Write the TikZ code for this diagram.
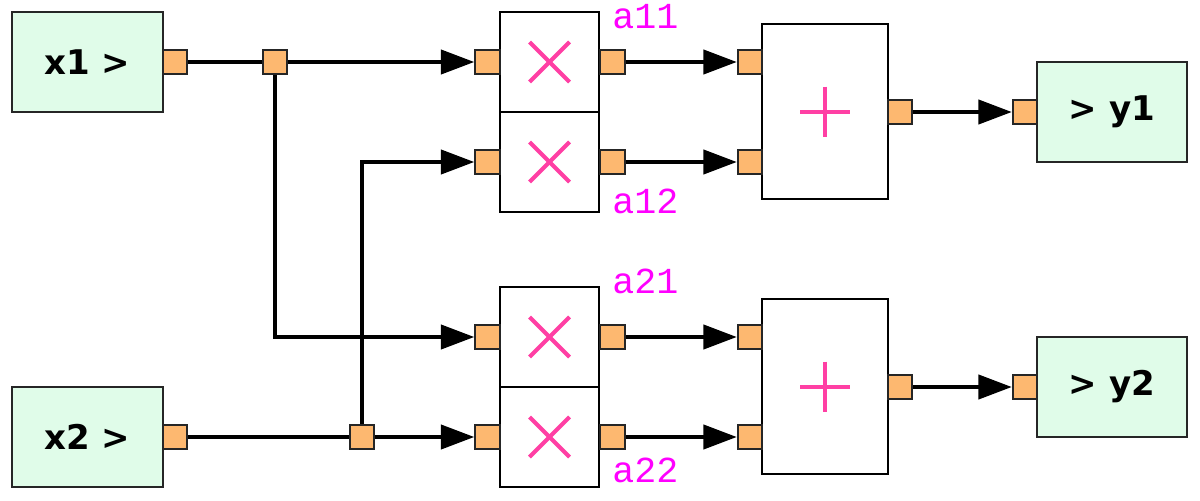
\documentclass[tikz,border=0pt]{standalone}
\usepackage{fontspec}
\setmainfont{DejaVu Sans}
\newfontfamily\monof{Liberation Mono}
\usetikzlibrary{arrows.meta}
\definecolor{iogreen}{HTML}{E0FCE9}
\definecolor{portor}{HTML}{FDB870}
\definecolor{sympink}{HTML}{FF3FA4}
\definecolor{labmag}{HTML}{FF00FF}
\tikzset{
  iobox/.style={draw=black!85, line width=1.5pt, fill=iogreen, minimum width=113pt, minimum height=75pt, inner sep=0pt, font=\fontsize{25.5}{28}\selectfont\bfseries},
  portbox/.style={draw=black!85, line width=1.3pt, fill=portor, minimum width=18.5pt, minimum height=18.5pt, inner sep=0pt},
  opbox/.style={draw=black, line width=1.8pt, fill=white, minimum width=74.5pt, minimum height=75pt, inner sep=0pt},
  sumbox/.style={draw=black, line width=1.8pt, fill=white, minimum width=94.5pt, minimum height=131pt, inner sep=0pt},
  wire/.style={line width=3pt, black},
  arr/.style={wire, -{Triangle[length=25pt,width=18pt]}},
  opsym/.style={line width=3pt, sympink},
  lab/.style={anchor=base west, inner sep=0pt, text=labmag, font=\monof\fontsize{27.5}{30}\selectfont},
}
\begin{document}
\begin{tikzpicture}[x=0.75pt,y=-0.75pt]
\useasboundingbox (0,0) rectangle (1200,500);
% IO boxes
\node[iobox] (x1) at (87.5,62) {x1 >};
\node[iobox] (x2) at (87.5,437) {x2 >};
\node[iobox] (y1) at (1112,112) {> y1};
\node[iobox] (y2) at (1112,387) {> y2};
% multiplier boxes
\node[opbox] (m11) at (549.5,62) {};
\node[opbox] (m12) at (549.5,162) {};
\node[opbox] (m21) at (549.5,337) {};
\node[opbox] (m22) at (549.5,437) {};
% sum boxes
\node[sumbox] (s1) at (825,111.5) {};
\node[sumbox] (s2) at (825,386.5) {};
% symbols
\foreach \m in {m11,m12,m21,m22}{
  \draw[opsym] ([shift={(-20,-20)}]\m.center) -- ([shift={(20,20)}]\m.center);
  \draw[opsym] ([shift={(-20,20)}]\m.center) -- ([shift={(20,-20)}]\m.center);
}
\foreach \s in {s1,s2}{
  \draw[opsym] ([shift={(-25,0)}]\s.center) -- ([shift={(25,0)}]\s.center);
  \draw[opsym] ([shift={(0,-25)}]\s.center) -- ([shift={(0,25)}]\s.center);
}
% ports
\node[portbox] (x1o) at (175,62) {};
\node[portbox] (x2o) at (175,437) {};
\node[portbox] (j1) at (275,62) {};
\node[portbox] (j2) at (362,437) {};
\node[portbox] (m11i) at (487.5,62) {};
\node[portbox] (m12i) at (487.5,162) {};
\node[portbox] (m21i) at (487.5,337) {};
\node[portbox] (m22i) at (487.5,437) {};
\node[portbox] (m11o) at (612.5,62) {};
\node[portbox] (m12o) at (612.5,162) {};
\node[portbox] (m21o) at (612.5,337) {};
\node[portbox] (m22o) at (612.5,437) {};
\node[portbox] (s1a) at (750,62) {};
\node[portbox] (s1b) at (750,162) {};
\node[portbox] (s2a) at (750,337) {};
\node[portbox] (s2b) at (750,437) {};
\node[portbox] (s1o) at (900,112) {};
\node[portbox] (s2o) at (900,387) {};
\node[portbox] (y1i) at (1025,112) {};
\node[portbox] (y2i) at (1025,387) {};
% wires
\draw[wire] (x1o) -- (j1);
\draw[arr] (j1) -- (m11i);
\draw[arr] (j1) |- (m21i);
\draw[wire] (x2o) -- (j2);
\draw[arr] (j2) -- (m22i);
\draw[arr] (j2) |- (m12i);
\draw[arr] (m11o) -- (s1a);
\draw[arr] (m12o) -- (s1b);
\draw[arr] (m21o) -- (s2a);
\draw[arr] (m22o) -- (s2b);
\draw[arr] (s1o) -- (y1i);
\draw[arr] (s2o) -- (y2i);
% labels
\node[lab] (l11) at (612,28) {a11};
\node[lab] (l12) at (612,213) {a12};
\node[lab] (l21) at (612,293) {a21};
\node[lab] (l22) at (612,482) {a22};
\end{tikzpicture}
\end{document}
